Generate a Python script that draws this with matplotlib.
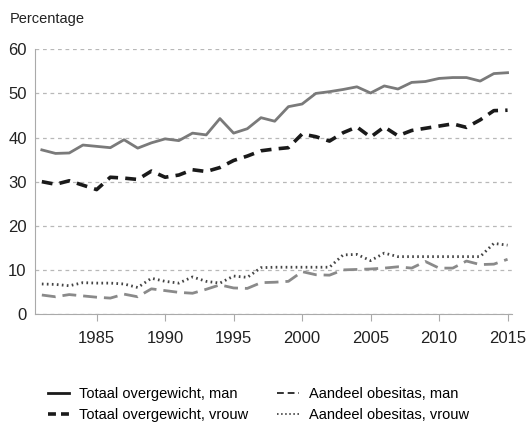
import matplotlib.pyplot as plt
from matplotlib.lines import Line2D
import numpy as np

plt.rcParams['font.family'] = ['Liberation Sans', 'DejaVu Sans']

years = np.arange(1981, 2016)

totaal_man = [37.2, 36.4, 36.5, 38.3, 38.0, 37.7, 39.5, 37.6, 38.8, 39.7,
              39.3, 41.0, 40.6, 44.3, 41.0, 42.0, 44.5, 43.7, 47.0, 47.6,
              50.0, 50.4, 50.9, 51.5, 50.1, 51.7, 51.0, 52.5, 52.7, 53.4,
              53.6, 53.6, 52.8, 54.5, 54.7]
totaal_vrouw = [30.0, 29.4, 30.2, 29.2, 28.2, 31.0, 30.8, 30.5, 32.4, 31.0,
                31.5, 32.7, 32.3, 33.2, 34.8, 35.8, 37.0, 37.4, 37.7, 40.8,
                40.2, 39.2, 41.1, 42.4, 40.1, 42.4, 40.4, 41.6, 42.1, 42.6,
                43.1, 42.3, 44.0, 46.1, 46.2]
obesitas_man = [4.3, 3.9, 4.4, 4.1, 3.8, 3.6, 4.5, 3.9, 5.7, 5.3,
                4.9, 4.7, 5.6, 6.6, 5.9, 5.8, 7.1, 7.2, 7.4, 9.6,
                8.9, 8.8, 10.0, 10.1, 10.2, 10.4, 10.7, 10.4, 11.9, 10.4,
                10.4, 12.0, 11.2, 11.3, 12.4]
obesitas_vrouw = [6.8, 6.7, 6.4, 7.1, 7.0, 7.0, 6.8, 6.0, 8.1, 7.4,
                  7.0, 8.4, 7.4, 7.0, 8.6, 8.3, 10.5, 10.6, 10.6, 10.6,
                  10.6, 10.6, 13.4, 13.5, 12.1, 13.8, 13.0, 13.0, 13.0, 13.0,
                  13.0, 13.0, 13.0, 16.0, 15.6]

labels = ['Totaal overgewicht, man', 'Totaal overgewicht, vrouw',
          'Aandeel obesitas, man', 'Aandeel obesitas, vrouw']

fig = plt.figure(figsize=(5.27, 4.30), dpi=100)
ax = fig.add_axes([0.0664, 0.2698, 0.9045, 0.6155])

ax.plot(years, totaal_man, color='#7a7a7a', lw=2, ls='-')
ax.plot(years, totaal_vrouw, color='#1a1a1a', lw=2.6, ls=(0, (3, 2)))
ax.plot(years, obesitas_man, color='#8a8a8a', lw=2, ls=(0, (5, 2.5)))
ax.plot(years, obesitas_vrouw, color='#444444', lw=2, ls=(0, (0.6, 1.2)))

ax.set_xlim(1980.5, 2015.3)
ax.set_ylim(0, 60)
ax.set_yticks(range(0, 61, 10))
ax.set_xticks(range(1985, 2016, 5))
ax.yaxis.grid(True, color='#b8b8b8', ls=(0, (3, 3)), lw=0.9)
ax.set_axisbelow(True)
for s in ['top', 'right']:
    ax.spines[s].set_visible(False)
ax.spines['left'].set_color('#aaaaaa')
ax.spines['bottom'].set_color('#aaaaaa')
ax.tick_params(axis='y', length=0, labelsize=12, pad=6, colors='#222222')
ax.tick_params(axis='x', length=5, color='#aaaaaa', labelsize=12, pad=7,
               labelcolor='#222222')

fig.text(0.019, 0.955, 'Percentage', fontsize=10.5, color='#222222', va='center')

# legend handles with shorter dash patterns so two dashes fit
handles = [
    Line2D([], [], color='#1a1a1a', lw=2),
    Line2D([], [], color='#1a1a1a', lw=2.6, ls=(0, (2.2, 1.4))),
    Line2D([], [], color='#333333', lw=1.4, ls=(0, (3.5, 2))),
    Line2D([], [], color='#555555', lw=1.4, ls=(0, (0.8, 1.3))),
]
fig.legend(handles, labels, loc='center', bbox_to_anchor=(0.49, 0.059), ncol=2,
           frameon=False, fontsize=10.5, handlelength=1.45, columnspacing=2.0,
           labelspacing=0.5, handletextpad=0.7)

plt.savefig('out.png', dpi=100, facecolor='white')
